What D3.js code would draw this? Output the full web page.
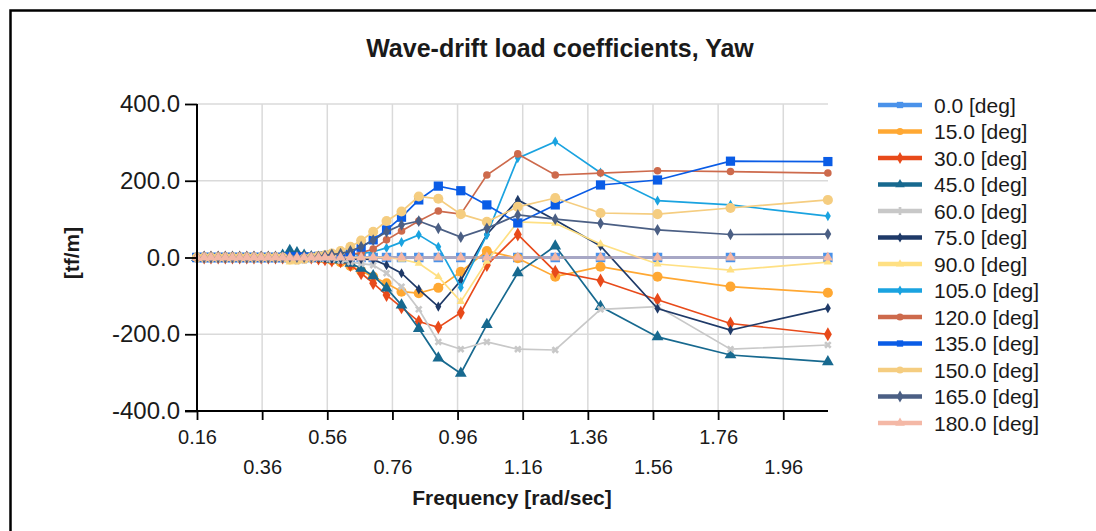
<!DOCTYPE html>
<html><head><meta charset="utf-8">
<script src="https://cdn.jsdelivr.net/npm/d3@7/dist/d3.min.js"></script>
<style>
body{margin:0;background:#fff;}
svg{display:block;font-family:"Liberation Sans",Arial,sans-serif;}
</style>
</head><body>
<svg id="chart" width="1096" height="531"></svg>
<script>
// ---------- data ----------
const frequencies = [0.157,0.179,0.200,0.222,0.244,0.266,0.288,0.310,0.332,0.354,0.376,0.398,0.420,0.442,0.464,0.486,0.508,0.530,0.550,0.571,
  0.598,0.628,0.661,0.698,0.739,0.785,0.838,0.898,0.967,1.047,1.142,1.257,1.396,1.571,1.795,2.094];
const headings = ["0.0","15.0","30.0","45.0","60.0","75.0","90.0","105.0","120.0","135.0","150.0","165.0","180.0"];
const yaw000 = [0,0,0,0,0,0,0,0,0,0,0,0,0,0,0,0,0,0,0,0, 0,0,0,0,0,0,0,0,0,0,0,0,0,0,0,0];
const yaw015 = [0,0,0,0,0,0,0,0,0,0,0,0,0,8,6,3,0,-2,-4,-7, -12,-22,-35,-50,-67,-89,-93,-79,-37,17,-2,-50,-24,-50,-76,-92];
const yaw030 = [0,0,0,0,0,0,0,0,0,0,0,0,0,5,3,1,0,-3,-5,-8, -10,-20,-41,-67,-98,-130,-167,-182,-144,-20,60,-37,-60,-110,-172,-200];
const yaw045 = [0,0,0,0,0,0,0,0,0,0,0,0,6,18,12,6,2,-1,-3,-5, -7,-15,-28,-48,-80,-124,-185,-262,-302,-175,-40,30,-128,-207,-254,-272];
const yaw060 = [0,0,0,0,0,0,0,0,0,0,0,0,-3,-8,-10,-8,-4,-2,-3,-5, -8,-12,-16,-20,-41,-76,-135,-220,-239,-220,-239,-241,-135,-128,-239,-228];
const yaw075 = [0,0,0,0,0,0,0,0,0,0,0,0,0,3,2,0,0,-1,-2,-3, -3,-4,-4,-5,-20,-41,-83,-128,-60,60,150,98,30,-133,-189,-132];
const yaw090 = [0,0,0,0,0,0,0,0,0,0,0,0,-5,-12,-10,-6,-3,-1,0,0, 0,0,0,0,0,-5,-15,-50,-115,-10,93,89,35,-17,-33,-12];
const yaw105 = [0,0,0,0,0,0,0,0,0,0,0,0,0,-3,-4,-2,0,2,3,3, 3,6,10,15,25,40,59,28,-78,59,259,302,221,148,137,108];
const yaw120 = [0,0,0,0,0,0,0,0,0,0,0,0,0,2,2,1,1,2,3,4, 5,8,12,22,46,69,95,121,113,215,270,215,220,226,224,220];
const yaw135 = [0,0,0,0,0,0,0,0,0,0,0,0,0,2,2,1,1,3,4,6, 8,14,27,46,72,105,150,186,174,137,90,137,189,202,251,250];
const yaw150 = [0,0,0,0,0,0,0,0,0,0,0,0,0,-5,-6,-3,0,4,6,10, 17,28,44,67,95,120,159,153,113,93,132,155,116,113,129,150];
const yaw165 = [0,0,0,0,0,0,0,0,0,0,0,0,0,2,1,1,1,3,5,8, 10,17,28,45,67,85,95,76,53,76,111,100,89,72,60,61];
const yaw180 = [0,0,0,0,0,0,0,0,0,0,0,0,0,0,0,0,0,0,0,0, 0,0,0,0,0,0,0,0,0,0,0,0,0,0,0,0];
const yTicks = [-400,-200,0,200,400];
const title = "Wave-drift load coefficients, Yaw";
const xTitle = "Frequency [rad/sec]";
const yTitle = "[tf/m]";

const seriesValues = [yaw000,yaw015,yaw030,yaw045,yaw060,yaw075,yaw090,yaw105,yaw120,yaw135,yaw150,yaw165,yaw180];
const colors = ["#4A92EA","#FFA833","#E84A1A","#17698F","#C8C8C8","#1F3A68","#FFE083","#1AA3E0","#CD6A4C","#0A5CE6","#F5CD80","#4B5F84","#F4B8A6"];
const shapes = [d3.symbolSquare,d3.symbolCircle,d3.symbolDiamond,d3.symbolTriangle,d3.symbolCross,d3.symbolDiamond,d3.symbolTriangle,d3.symbolDiamond,d3.symbolCircle,d3.symbolSquare,d3.symbolCircle,d3.symbolDiamond,d3.symbolTriangle];
const sizes = [90,80,55,60,35,30,30,30,45,85,80,40,45];

// ---------- layout ----------
const svg = d3.select("#chart");
const L = 197, R = 828, T = 104, B = 411;
const xMin = 2*Math.PI/40, xMax = 2*Math.PI/3;
const x = d3.scaleLinear().domain([xMin, xMax]).range([L, R]);
const y = d3.scaleLinear().domain([-400, 400]).range([B, T]);

svg.append("rect").attr("x",10.5).attr("y",10.5).attr("width",1200).attr("height",600)
  .attr("fill","#fff").attr("stroke","#000").attr("stroke-width",2.5);

const majorX = d3.range(10).map(k => xMin + 0.2*k);
const minorX = d3.range(49).map(k => xMin + 0.04*k).filter(v => v <= xMax + 1e-9);
const minorY = d3.range(-400, 401, 40);

// grid
const grid = svg.append("g");
grid.selectAll("line.v").data(majorX.slice(1)).join("line")
  .attr("x1", d => x(d)).attr("x2", d => x(d)).attr("y1", T).attr("y2", B)
  .attr("stroke","#DADADA").attr("stroke-width",1.5);
grid.selectAll("line.h").data(yTicks.slice(1)).join("line")
  .attr("x1", L).attr("x2", R).attr("y1", d => y(d)).attr("y2", d => y(d))
  .attr("stroke","#DADADA").attr("stroke-width",1.5);

// series
const lineGen = d3.line().x((d,i) => x(frequencies[i])).y(d => y(d));
const plot = svg.append("g");
seriesValues.forEach((vals, s) => {
  const g = plot.append("g");
  g.append("path").datum(vals).attr("d", lineGen).attr("fill","none")
    .attr("stroke", colors[s]).attr("stroke-width", (s === 0 || s === 12) ? 3 : 1.7)
    .attr("stroke-opacity", s === 12 ? 0.55 : 1);
  const sym = d3.symbol().type(shapes[s]).size(sizes[s]);
  g.selectAll("path.m").data(vals).join("path")
    .attr("transform", (d,i) => `translate(${x(frequencies[i])},${y(d)})${shapes[s]===d3.symbolCross?" rotate(45)":""}`)
    .attr("d", sym).attr("fill", colors[s]);
});

// axes
const yAxis = d3.axisLeft(y).tickValues(yTicks).tickSize(12).tickPadding(5).tickFormat(d => d.toFixed(1));
const yMinor = d3.axisLeft(y).tickValues(minorY).tickSize(6).tickFormat("");
const xAxis = d3.axisBottom(x).tickValues(majorX).tickSize(9).tickPadding(5).tickFormat(d => d.toFixed(2));
const xMinor = d3.axisBottom(x).tickValues(minorX).tickSize(6).tickFormat("");

const gy = svg.append("g").attr("transform",`translate(${L},0)`);
gy.call(yMinor); gy.call(yAxis);
const gx = svg.append("g").attr("transform",`translate(0,${B})`);
gx.call(xMinor); gx.call(xAxis);
[gx, gy].forEach(g => {
  g.selectAll(".domain").attr("stroke","#000").attr("stroke-width",2);
  g.selectAll(".tick line").attr("stroke","#000").attr("stroke-width",1.8);
  g.attr("font-family",null);
});
gy.selectAll("text").attr("font-size",24).attr("fill","#1a1a1a");
gx.selectAll("text").attr("font-size",20).attr("fill","#1a1a1a")
  .attr("y", (d,i) => i % 2 === 0 ? 19 : 49);
gx.select(".domain").attr("d", `M${L-12},0H${R}`);
gy.select(".domain").attr("d", `M0,${T}V${B}`);

// titles
svg.append("text").attr("x",560).attr("y",57).attr("text-anchor","middle")
  .attr("font-size",25).attr("font-weight","bold").attr("fill","#1a1a1a").text(title);
svg.append("text").attr("x",512).attr("y",505).attr("text-anchor","middle")
  .attr("font-size",21).attr("font-weight","bold").attr("fill","#1a1a1a").text(xTitle);
svg.append("text").attr("transform","translate(79,253) rotate(-90)").attr("text-anchor","middle")
  .attr("font-size",21).attr("font-weight","bold").attr("fill","#1a1a1a").text(yTitle);

// legend
const lg = svg.append("g");
headings.forEach((h, s) => {
  const cy = 105 + 26.5*s;
  lg.append("line").attr("x1",878).attr("x2",922).attr("y1",cy).attr("y2",cy)
    .attr("stroke",colors[s]).attr("stroke-width",4.5);
  lg.append("path").attr("transform",`translate(900,${cy})`)
    .attr("d", d3.symbol().type(shapes[s]).size(Math.min(sizes[s],40))).attr("fill",colors[s]);
  lg.append("text").attr("x",934).attr("y",cy+7.5).attr("font-size",21).attr("fill","#1a1a1a")
    .text(h + " [deg]");
});
</script>
</body></html>
